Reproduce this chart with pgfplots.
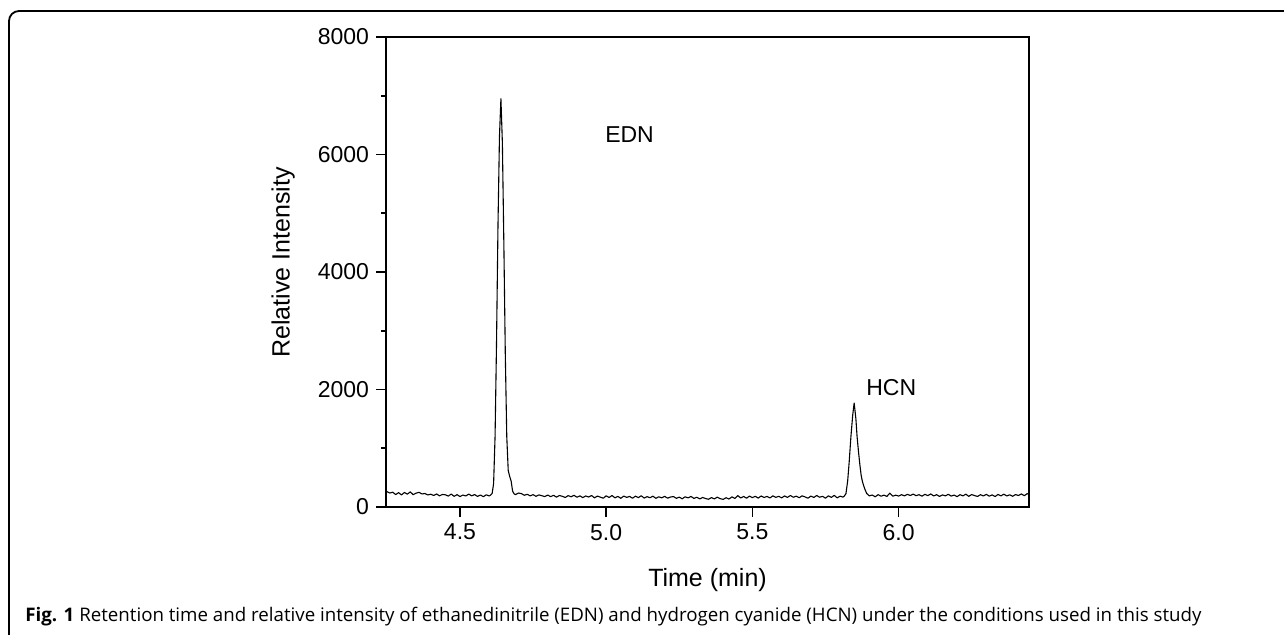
\documentclass[border=0pt]{standalone}
\usepackage{pgfplots}
\usepackage{pgfplotstable}
\pgfplotsset{compat=1.18}
\usepackage{fontspec}
\setmainfont{Liberation Sans}
\newfontfamily\capfont{Open Sans}

\pgfplotstableread{
x y
4.25 262
4.26 238
4.27 252
4.28 212
4.29 244
4.30 206
4.31 248
4.32 218
4.33 258
4.34 210
4.35 236
4.36 250
4.37 222
4.38 230
4.39 205
4.40 218
4.41 196
4.42 222
4.43 190
4.44 214
4.45 208
4.46 186
4.47 220
4.48 182
4.49 210
4.50 178
4.51 204
4.52 188
4.53 220
4.54 190
4.55 212
4.56 180
4.57 204
4.58 176
4.59 208
4.60 188
4.605 205
4.610 230
4.615 400
4.620 1200
4.625 2800
4.630 4800
4.635 6300
4.640 6950
4.645 6200
4.650 4500
4.655 2600
4.660 1200
4.665 620
4.670 520
4.675 440
4.680 270
4.685 225
4.69 212
4.70 238
4.71 228
4.72 200
4.73 216
4.74 190
4.75 210
4.76 182
4.77 206
4.78 192
4.79 178
4.80 204
4.81 176
4.82 200
4.83 168
4.84 196
4.85 182
4.86 162
4.87 194
4.88 174
4.89 200
4.90 166
4.91 190
4.92 160
4.93 188
4.94 170
4.95 196
4.96 156
4.97 186
4.98 168
4.99 150
5.00 190
5.01 162
5.02 196
5.03 156
5.04 180
5.05 148
5.06 186
5.07 164
5.08 180
5.09 150
5.10 184
5.11 160
5.12 192
5.13 152
5.14 176
5.15 158
5.16 184
5.17 148
5.18 174
5.19 156
5.20 182
5.21 150
5.22 170
5.23 178
5.24 148
5.25 168
5.26 140
5.27 174
5.28 156
5.29 180
5.30 146
5.31 166
5.32 138
5.33 162
5.34 144
5.35 132
5.36 160
5.37 138
5.38 168
5.39 142
5.40 130
5.41 158
5.42 136
5.43 172
5.44 146
5.45 194
5.46 154
5.47 180
5.48 150
5.49 186
5.50 160
5.51 182
5.52 152
5.53 188
5.54 162
5.55 180
5.56 154
5.57 190
5.58 164
5.59 182
5.60 156
5.61 188
5.62 164
5.63 196
5.64 166
5.65 184
5.66 158
5.67 190
5.68 172
5.69 150
5.70 186
5.71 162
5.72 196
5.73 166
5.74 182
5.75 150
5.76 190
5.77 164
5.78 198
5.79 156
5.80 184
5.81 168
5.815 190
5.820 227
5.826 450
5.831 765
5.837 1200
5.843 1560
5.848 1770
5.854 1500
5.858 1200
5.863 935
5.868 700
5.872 540
5.876 440
5.880 370
5.885 300
5.891 230
5.90 190
5.91 204
5.92 174
5.93 210
5.94 184
5.95 202
5.96 180
5.97 236
5.98 184
5.99 202
6.00 186
6.01 210
6.02 190
6.03 216
6.04 196
6.05 220
6.06 192
6.07 210
6.08 184
6.09 216
6.10 194
6.11 222
6.12 188
6.13 210
6.14 180
6.15 206
6.16 190
6.17 216
6.18 186
6.19 204
6.20 176
6.21 210
6.22 190
6.23 218
6.24 182
6.25 212
6.26 194
6.27 180
6.28 210
6.29 188
6.30 216
6.31 184
6.32 206
6.33 178
6.34 214
6.35 190
6.36 218
6.37 188
6.38 208
6.39 182
6.40 212
6.41 196
6.42 222
6.43 192
6.44 228
6.445 212
}\chrom

\begin{document}
\begin{tikzpicture}
\path[use as bounding box] (0,0) rectangle (642pt,317pt);
\draw[line width=0.9pt, rounded corners=5pt] (4.5pt,-5pt) -- (4.5pt,311.5pt) -- (650pt,311.5pt);
\begin{axis}[
  at={(193pt,63.5pt)}, anchor=south west,
  width=321.5pt, height=235pt, scale only axis,
  xmin=4.247, xmax=6.446, ymin=0, ymax=8000,
  axis line style={line width=0.8pt},
  xtick={4.5,5.0,5.5,6.0}, xticklabels={4.5,5.0,5.5,6.0},
  ytick={0,2000,4000,6000,8000},
  minor ytick={1000,3000,5000,7000},
  tick align=outside, xtick pos=bottom, ytick pos=left,
  major tick length=5pt, minor tick length=2.5pt,
  tick style={line width=0.8pt, black},
  /pgf/number format/assume math mode=true,
  ticklabel style={font=\fontsize{11.5}{13}\selectfont},
  scaled y ticks=false,
  yticklabel style={/pgf/number format/.cd, fixed, 1000 sep={}},
  xlabel={Time (min)}, ylabel={Relative Intensity},
  label style={font=\fontsize{12.5}{14}\selectfont},
  xlabel style={at={(axis description cs:0.5,-0.155)}, anchor=center},
  ylabel style={at={(axis description cs:-0.16,0.52)}, anchor=center},
]
\addplot[black, line width=0.55pt, line join=round] table[x=x, y=y] {\chrom};
\node[font=\fontsize{11.5}{13}\selectfont] at (axis cs:5.08,6340) {EDN};
\node[font=\fontsize{11.5}{13}\selectfont] at (axis cs:5.975,2040) {HCN};
\end{axis}
\node[anchor=base west, inner sep=0pt] at (12.5pt,6.5pt) {\resizebox{588pt}{!}{\capfont\fontsize{7.7}{9}\selectfont\textbf{Fig. 1} Retention time and relative intensity of ethanedinitrile (EDN) and hydrogen cyanide (HCN) under the conditions used in this study}};
\end{tikzpicture}
\end{document}
